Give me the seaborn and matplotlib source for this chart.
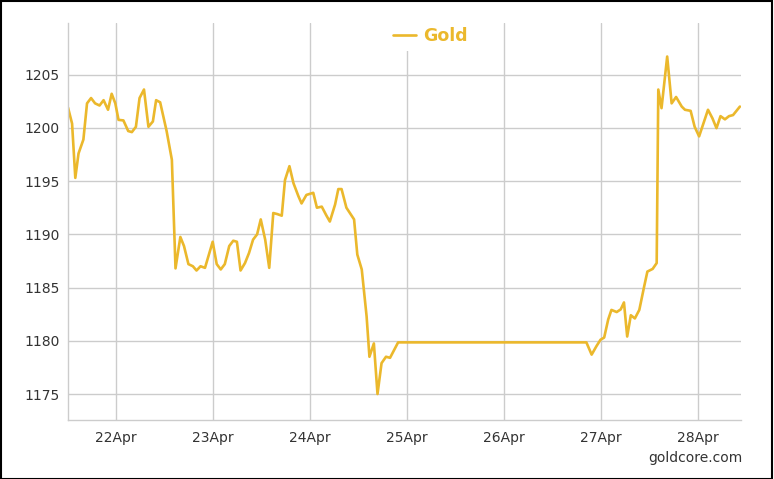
import numpy as np
import pandas as pd
import matplotlib
matplotlib.use("Agg")
import matplotlib.pyplot as plt
import matplotlib.dates as mdates
from matplotlib.patches import Rectangle
import seaborn as sns

sns.set_style("white")
plt.rcParams['font.family'] = ['DejaVu Sans']

# hours after 22 Apr 2015 00:00
hours = [-11.9, -10.9, -10.1, -9.3, -8.1, -7.2, -6.2, -5.2, -4.1, -3.1,
         -2.0, -1.1, -0.2, 0.6, 1.8, 3.0, 3.9, 4.9, 5.8, 6.9,
         8.0, 9.1, 9.9, 10.9, 12.5, 13.8, 14.7, 15.9, 16.8, 17.9,
         19.0, 19.9, 20.9, 22.0, 23.9, 24.9, 25.9, 26.9, 28.0, 29.0,
         29.9, 30.8, 31.9, 32.9, 33.9, 34.9, 35.8, 36.9, 37.9, 38.9,
         39.9, 41.0, 41.8, 42.9, 43.9, 45.1, 45.9, 47.1, 48.8, 49.7,
         50.9, 52.0, 52.9, 54.2, 55.0, 55.8, 57.0, 58.9, 59.7, 60.8,
         62.0, 62.7, 63.8, 64.7, 65.7, 66.8, 67.8, 69.8, 116.4, 117.7,
         118.9, 119.9, 120.8, 121.8, 122.6, 123.9, 124.9, 125.7, 126.5, 127.4,
         128.4, 129.5, 130.7, 131.5, 132.8, 133.8, 134.2, 135.0, 136.4, 137.5,
         138.6, 140.0, 140.8, 142.2, 143.2, 144.3, 145.4, 146.5, 147.6, 148.6,
         149.6, 150.7, 151.7, 152.7, 154.4]

gold = [1201.9, 1200.4, 1195.3, 1197.6, 1198.9, 1202.3, 1202.8, 1202.3, 1202.1, 1202.6,
        1201.7, 1203.2, 1202.3, 1200.75, 1200.7, 1199.7, 1199.6, 1200.1, 1202.8, 1203.6,
        1200.1, 1200.6, 1202.6, 1202.4, 1199.7, 1197.0, 1186.8, 1189.75, 1188.9, 1187.2,
        1187.0, 1186.6, 1187.0, 1186.85, 1189.3, 1187.2, 1186.7, 1187.2, 1188.9, 1189.4,
        1189.3, 1186.6, 1187.3, 1188.25, 1189.5, 1190.0, 1191.4, 1189.5, 1186.85, 1192.0,
        1191.9, 1191.75, 1195.1, 1196.4, 1194.8, 1193.6, 1192.9, 1193.7, 1193.9, 1192.5,
        1192.6, 1191.8, 1191.2, 1192.8, 1194.25, 1194.25, 1192.5, 1191.4, 1188.1, 1186.7,
        1182.3, 1178.5, 1179.75, 1175.0, 1177.9, 1178.5, 1178.4, 1179.85, 1179.85, 1178.7,
        1179.5, 1180.1, 1180.3, 1182.0, 1182.9, 1182.7, 1182.95, 1183.6, 1180.4, 1182.4,
        1182.1, 1182.9, 1185.1, 1186.5, 1186.75, 1187.3, 1203.6, 1201.85, 1206.7, 1202.3,
        1202.9, 1202.0, 1201.7, 1201.6, 1200.1, 1199.2, 1200.45, 1201.7, 1200.9, 1199.97,
        1201.1, 1200.8, 1201.1, 1201.2, 1202.0]

y_ticks = [1175, 1180, 1185, 1190, 1195, 1200, 1205]

start = pd.Timestamp("2015-04-22")
df = pd.DataFrame({"time": start + pd.to_timedelta(hours, unit="h"), "Gold": gold})

gold_color = "#ebb82c"
text_color = "#333333"
grid_color = "#cccccc"

fig = plt.figure(figsize=(7.74, 4.79), dpi=100)
ax = fig.add_axes([0.0879, 0.1232, 0.8691, 0.8288])

sns.lineplot(data=df, x="time", y="Gold", color=gold_color, linewidth=1.9,
             label="Gold", ax=ax)

ax.set_xlim(start + pd.Timedelta(hours=-11.9), start + pd.Timedelta(hours=154.6))
ax.set_ylim(1172.56, 1209.85)
ax.set_yticks(y_ticks)
ax.xaxis.set_major_locator(mdates.DayLocator())
ax.xaxis.set_major_formatter(mdates.DateFormatter("%d%b"))

ax.grid(True, color=grid_color, linewidth=1)
ax.set_axisbelow(True)
for side in ["top", "right"]:
    ax.spines[side].set_visible(False)
for side in ["left", "bottom"]:
    ax.spines[side].set_color(grid_color)
    ax.spines[side].set_linewidth(1)
ax.tick_params(axis="both", length=0, labelsize=10, colors=text_color)
ax.tick_params(axis="y", pad=6)
ax.tick_params(axis="x", pad=8)
ax.set_xlabel("")
ax.set_ylabel("")

# legend sits over the top of the grid with a white box, as in the original
leg = ax.legend(loc="upper center", bbox_to_anchor=(0.556, 0.975),
                bbox_transform=fig.transFigure, frameon=True, facecolor="white",
                edgecolor="none", framealpha=1, fancybox=False, borderpad=0.35,
                handlelength=1.3, handletextpad=0.4, labelcolor=gold_color,
                prop={"weight": "bold", "size": 12.5})

fig.text(0.959, 0.043, "goldcore.com", ha="right", va="center",
         fontsize=10, color=text_color)

fig.add_artist(Rectangle((0.001, 0.001), 0.997, 0.996, transform=fig.transFigure,
                         fill=False, edgecolor="black", linewidth=1.5))

fig.savefig("out.png", dpi=100)
